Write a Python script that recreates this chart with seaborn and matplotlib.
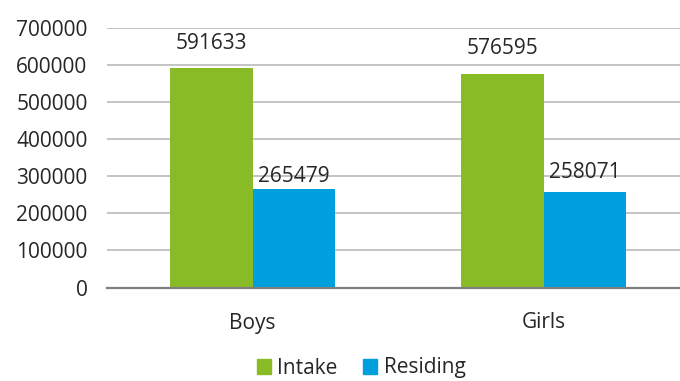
import pandas as pd
import numpy as np
import matplotlib.pyplot as plt
import seaborn as sns

# data
groups = ['Boys', 'Girls']
intake = [591633, 576595]
residing = [265479, 258071]
series = ['Intake', 'Residing']
colors = ['#88BB26', '#00A0DF']
yticks = [0, 100000, 200000, 300000, 400000, 500000, 600000, 700000]

df = pd.DataFrame({
    'group': groups * 2,
    'series': [series[0]] * 2 + [series[1]] * 2,
    'value': intake + residing,
})

sns.set_style('white')
plt.rcParams['font.family'] = ['Open Sans', 'DejaVu Sans']
txt = '#262626'

fig = plt.figure(figsize=(6.8, 3.81), dpi=100)
ax = fig.add_axes([107 / 680, 1 - 287.5 / 381, 582 / 680, 259.5 / 381])

sns.barplot(data=df, x='group', y='value', hue='series', hue_order=series,
            palette=colors, width=0.57, saturation=1, ax=ax, legend=False,
            linewidth=0, zorder=3)

ax.set_xlim(-0.5, 1.5)
ax.set_ylim(0, 700000)
ax.set_yticks(yticks)
ax.set_yticklabels([str(v) for v in yticks])
ax.grid(axis='y', color='#BFBFBF', linewidth=1.3, zorder=0)
ax.set_axisbelow(True)
ax.set_xlabel('')
ax.set_ylabel('')
for s in ['left', 'right', 'top']:
    ax.spines[s].set_visible(False)
ax.spines['bottom'].set_color('#7F7F7F')
ax.spines['bottom'].set_linewidth(1.6)
ax.spines['bottom'].set_zorder(4)
ax.tick_params(axis='both', length=0, labelsize=15, colors=txt)
ax.tick_params(axis='x', pad=18)
ax.tick_params(axis='y', pad=14)

# value labels above bars
offsets = [[18, 18], [9, 14]]
for i, cont in enumerate(ax.containers):
    for j, bar in enumerate(cont):
        h = bar.get_height()
        ax.annotate(f'{int(h)}', (bar.get_x() + bar.get_width() / 2, h),
                    xytext=(0, offsets[i][j]), textcoords='offset points',
                    ha='center', va='center', fontsize=15, color=txt)

handles = [plt.Rectangle((0, 0), 1, 1, color=c) for c in colors]
fig.legend(handles, series, loc='center', bbox_to_anchor=(361 / 680, 1 - 368 / 381),
           ncol=2, frameon=False, fontsize=15, handlelength=0.7, handleheight=0.7,
           handletextpad=0.3, columnspacing=1.2, labelcolor=txt)

fig.savefig('out.png', dpi=100)
